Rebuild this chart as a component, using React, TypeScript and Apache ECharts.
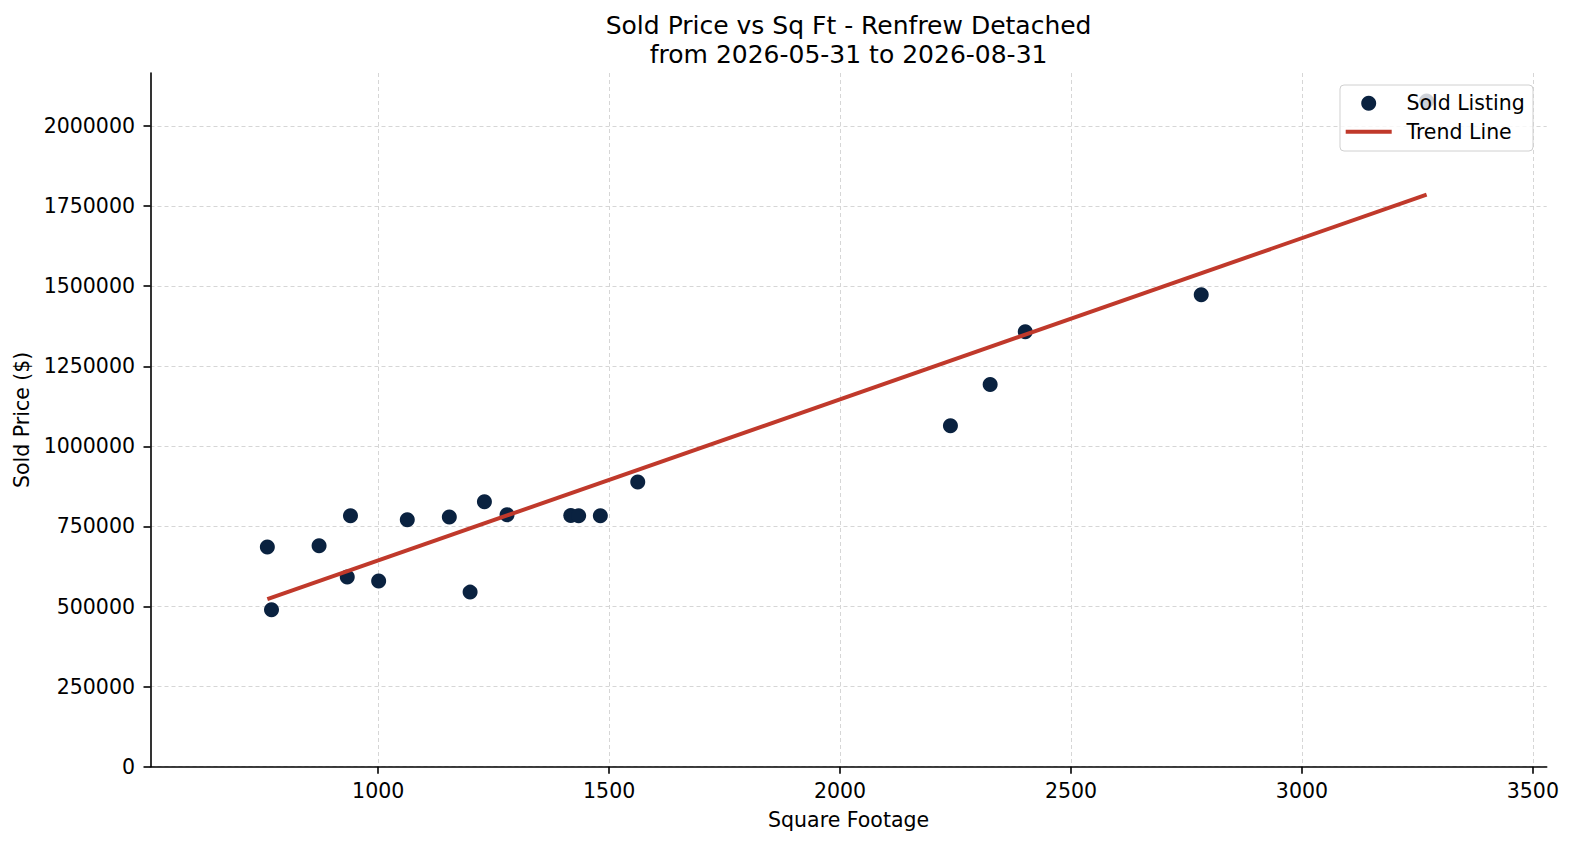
import React, { useEffect, useRef } from 'react';
import * as echarts from 'echarts';

const FONT = 'DejaVu Sans';

const titleLines = ['Sold Price vs Sq Ft - Renfrew Detached', 'from 2026-05-31 to 2026-08-31'];

// sold listings (sq ft, sold price $)
const sqft = [760, 769, 872, 933, 940, 1001, 1063, 1154, 1199, 1230, 1279, 1417, 1434, 1481, 1562, 2239, 2325, 2401, 2782, 3270];
const soldPrice = [
  685600, 489700, 689700, 591900, 783400, 579400, 770900, 779400, 545000, 827200,
  786600, 784400, 783400, 783400, 888700, 1064700, 1192800, 1357500, 1473100, 2078000
];

// trend line end points
const trendSqft = [760, 3270];
const trendPrice = [523000, 1786000];

const xTicks = [1000, 1500, 2000, 2500, 3000, 3500];
const yTicks = [0, 250000, 500000, 750000, 1000000, 1250000, 1500000, 1750000, 2000000];

const axisColor = '#000';
const gridColor = '#d6d6d6';
const pointColor = '#0a2240';
const trendColor = '#c0392b';

const App: React.FC = () => {
  const chartRef = useRef<HTMLDivElement>(null);

  useEffect(() => {
    if (!chartRef.current) return;
    const chart = echarts.init(chartRef.current, null, { renderer: 'svg' });

    const tickLabel = { fontFamily: FONT, fontSize: 20.5, color: '#000' };
    const plain = (v: number) => String(v);

    const option = {
      animation: false,
      graphic: [
        {
          type: 'text',
          x: 848.6,
          y: 10.5,
          style: {
            text: titleLines.join('\n'),
            fontFamily: FONT,
            fontSize: 25,
            lineHeight: 29,
            fill: '#000',
            align: 'center',
            verticalAlign: 'top',
            textAlign: 'center',
            textVerticalAlign: 'top'
          }
        }
      ],
      grid: {
        left: 150.5,
        right: 27.3,
        top: 73,
        bottom: 78.3,
        outerBoundsMode: 'none'
      },
      legend: {
        data: [
          { name: 'Sold Listing', icon: 'circle' },
          { name: 'Trend Line', icon: 'path://M0,0H46V4H0Z' }
        ],
        orient: 'vertical',
        left: 1340,
        top: 85,
        padding: [7.3, 8.3, 8.3, 5.7],
        itemWidth: 46,
        itemHeight: 15,
        itemGap: 6.4,
        selectedMode: false,
        backgroundColor: 'rgba(255,255,255,0.8)',
        borderColor: '#d0d0d0',
        borderWidth: 1,
        borderRadius: 4,
        textStyle: {
          fontFamily: FONT,
          fontSize: 20.5,
          lineHeight: 22,
          color: '#000',
          padding: [0, 0, 0, 9.7]
        }
      },
      xAxis: {
        type: 'value',
        min: 507,
        max: 3530,
        name: 'Square Footage',
        nameLocation: 'middle',
        nameGap: 42.6,
        nameTextStyle: tickLabel,
        axisLine: { show: true, lineStyle: { color: axisColor, width: 1.6 } },
        axisTick: {
          show: true,
          customValues: xTicks,
          length: 7,
          lineStyle: { color: axisColor, width: 1.6 }
        },
        axisLabel: { customValues: xTicks, margin: 14, formatter: plain, ...tickLabel },
        splitLine: { show: true, lineStyle: { color: gridColor, width: 1, type: [4, 3] } }
      },
      yAxis: {
        type: 'value',
        min: 0,
        max: 2165600,
        name: 'Sold Price ($)',
        nameLocation: 'middle',
        nameRotate: 90,
        nameGap: 103,
        nameTextStyle: tickLabel,
        axisLine: { show: true, lineStyle: { color: axisColor, width: 1.6 } },
        axisTick: {
          show: true,
          customValues: yTicks,
          length: 7,
          lineStyle: { color: axisColor, width: 1.6 }
        },
        axisLabel: { customValues: yTicks, margin: 15.5, formatter: plain, ...tickLabel },
        splitLine: { show: true, lineStyle: { color: gridColor, width: 1, type: [4, 3] } }
      },
      series: [
        {
          name: 'Sold Listing',
          type: 'scatter',
          data: sqft.map((x, i) => [x, soldPrice[i]]),
          symbol: 'circle',
          symbolSize: 15,
          itemStyle: { color: pointColor, opacity: 1 }
        },
        {
          name: 'Trend Line',
          type: 'line',
          data: trendSqft.map((x, i) => [x, trendPrice[i]]),
          symbol: 'none',
          showSymbol: false,
          lineStyle: { color: trendColor, width: 4 },
          itemStyle: { color: trendColor }
        }
      ]
    };

    chart.setOption(option);

    const handleResize = () => chart.resize();
    window.addEventListener('resize', handleResize);

    return () => {
      window.removeEventListener('resize', handleResize);
      chart.dispose();
    };
  }, []);

  return (
    <div
      ref={chartRef}
      style={{ position: 'fixed', left: 0, top: 0, width: '1574px', height: '845px', background: '#fff' }}
    />
  );
};

export default App;
